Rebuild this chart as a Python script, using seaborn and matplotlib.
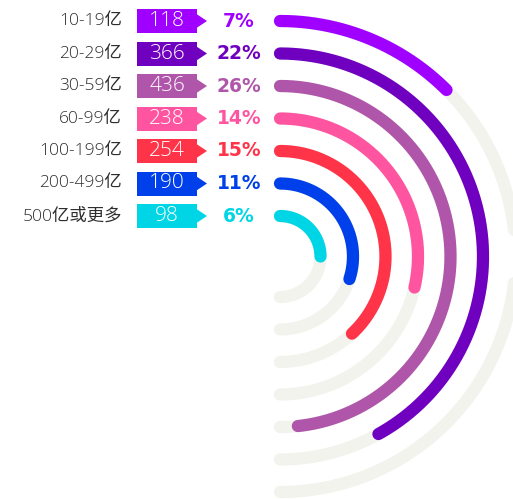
import matplotlib

matplotlib.use("Agg")
import matplotlib.pyplot as plt
import numpy as np
import seaborn as sns
from matplotlib.patches import Polygon, Rectangle

# 数据
categories = ["10-19亿", "20-29亿", "30-59亿", "60-99亿", "100-199亿", "200-499亿", "500亿或更多"]
counts = [118, 366, 436, 238, 254, 190, 98]
percents = [7, 22, 26, 14, 15, 11, 6]
arc_degrees = [45, 151, 174, 103, 137, 108, 90]  # 每条弧的角度
colors = ["#a000ff", "#7000c0", "#b056aa", "#ff55a0", "#ff3448", "#0040ea", "#00d5e5"]

TRACK = "#f2f3ed"
W, H = 513, 499
CX, CY = 280, 256.5
R_INNER, STEP = 40.5, 32.5
LW = 8.8

sns.set_theme(style="white")
plt.rcParams["font.family"] = ["Noto Sans CJK SC", "DejaVu Sans"]
LIGHT = ["Open Sans", "Noto Sans CJK SC", "DejaVu Sans"]

fig = plt.figure(figsize=(W / 100, H / 100), dpi=100)
ax = fig.add_axes([0, 0, 1, 1])
ax.set_xlim(0, W)
ax.set_ylim(H, 0)
ax.axis("off")


def arc_xy(r, deg):
    theta = np.radians(np.linspace(0, deg, 240))
    return CX + r * np.sin(theta), CY - r * np.cos(theta)


n = len(categories)
for i, (cat, cnt, pct, deg, col) in enumerate(zip(categories, counts, percents, arc_degrees, colors)):
    r = R_INNER + STEP * (n - 1 - i)
    y = CY - r

    # 底部灰色轨道 + 彩色弧
    tx, ty = arc_xy(r, 180)
    sns.lineplot(x=tx, y=ty, sort=False, estimator=None, color=TRACK, linewidth=LW,
                 solid_capstyle="round", ax=ax)
    vx, vy = arc_xy(r, deg)
    sns.lineplot(x=vx, y=vy, sort=False, estimator=None, color=col, linewidth=LW,
                 solid_capstyle="round", ax=ax)

    # 左侧标签
    ax.text(122, y, cat, ha="right", va="center", fontsize=12.5, color="#2e2e2e",
            family=LIGHT, fontweight="light")
    ax.add_patch(Rectangle((137, y - 12), 60, 24, color=col, lw=0))
    ax.add_patch(Polygon([(196.5, y - 7), (207, y), (196.5, y + 7)], closed=True, color=col, lw=0))
    ax.text(167, y, str(cnt), ha="center", va="center", fontsize=15, color="white",
            family=LIGHT, fontweight="light")
    ax.text(239, y, f"{pct}%", ha="center", va="center", fontsize=13.5, color=col,
            family="DejaVu Sans", fontweight="bold")

fig.savefig("out.png", dpi=100)
